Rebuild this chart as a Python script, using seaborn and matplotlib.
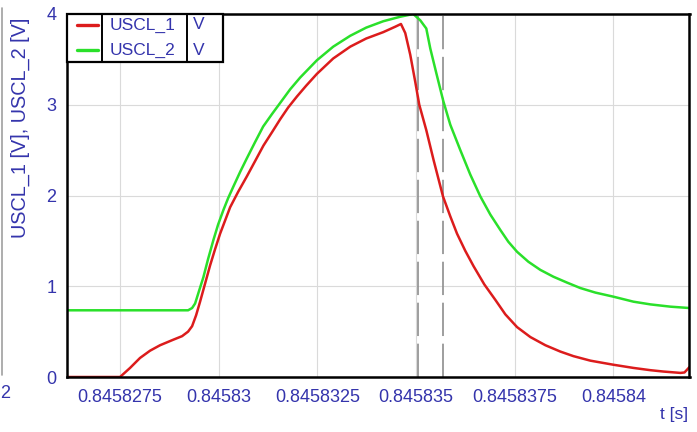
import matplotlib
matplotlib.use("Agg")
import matplotlib.pyplot as plt
from matplotlib.lines import Line2D
from matplotlib.patches import Rectangle
from matplotlib.ticker import FixedLocator, FixedFormatter
import numpy as np
import pandas as pd
import seaborn as sns

# ---- measured signals -------------------------------------------------------
t_uscl1 = [0.845826160, 0.845827500, 0.845827754, 0.845828007, 0.845828261,
           0.845828514, 0.845828844, 0.845829072, 0.845829224, 0.845829326,
           0.845829427, 0.845829528, 0.845829655, 0.845829782, 0.845829909,
           0.845830036, 0.845830289, 0.845830492, 0.845830712, 0.845830923,
           0.845831133, 0.845831354, 0.845831557, 0.845831760, 0.845831980,
           0.845832216, 0.845832487, 0.845832901, 0.845833332, 0.845833737,
           0.845834168, 0.845834473, 0.845834617, 0.845834726, 0.845834853,
           0.845834980, 0.845835081, 0.845835259, 0.845835444, 0.845835682,
           0.845835867, 0.845836037, 0.845836247, 0.845836458, 0.845836729,
           0.845837008, 0.845837262, 0.845837558, 0.845837896, 0.845838276,
           0.845838656, 0.845838986, 0.845839417, 0.845840000, 0.845840507,
           0.845840938, 0.845841268, 0.845841699, 0.845841800, 0.845841927]
u_uscl1 = [0.00, 0.00, 0.10, 0.21, 0.29,
           0.35, 0.41, 0.45, 0.50, 0.56,
           0.68, 0.83, 1.03, 1.23, 1.41,
           1.58, 1.87, 2.04, 2.21, 2.38,
           2.55, 2.70, 2.84, 2.97, 3.09,
           3.21, 3.34, 3.51, 3.64, 3.73,
           3.80, 3.86, 3.89, 3.79, 3.55,
           3.25, 3.00, 2.72, 2.39, 1.99,
           1.77, 1.58, 1.39, 1.22, 1.02,
           0.85, 0.69, 0.55, 0.44, 0.35,
           0.28, 0.23, 0.18, 0.135, 0.10,
           0.075, 0.06, 0.045, 0.05, 0.11]

t_uscl2 = [0.845826149, 0.845829224, 0.845829326, 0.845829402, 0.845829503,
           0.845829612, 0.845829731, 0.845829866, 0.845829985, 0.845830119,
           0.845830238, 0.845830373, 0.845830543, 0.845830713, 0.845830923,
           0.845831126, 0.845831354, 0.845831557, 0.845831810, 0.845832064,
           0.845832487, 0.845832901, 0.845833332, 0.845833737, 0.845834168,
           0.845834600, 0.845834929, 0.845835107, 0.845835259, 0.845835360,
           0.845835512, 0.845835690, 0.845835867, 0.845836121, 0.845836374,
           0.845836628, 0.845836881, 0.845837135, 0.845837338, 0.845837558,
           0.845837845, 0.845838149, 0.845838479, 0.845838826, 0.845839163,
           0.845839544, 0.845840000, 0.845840507, 0.845840938, 0.845841445,
           0.845841927]
u_uscl2 = [0.735, 0.735, 0.76, 0.81, 0.95,
           1.10, 1.30, 1.51, 1.68, 1.84,
           1.97, 2.10, 2.26, 2.41, 2.59,
           2.76, 2.90, 3.02, 3.17, 3.30,
           3.49, 3.64, 3.76, 3.85, 3.92,
           3.97, 4.00, 3.93, 3.84, 3.62,
           3.35, 3.04, 2.78, 2.50, 2.23,
           1.99, 1.79, 1.62, 1.49, 1.38,
           1.27, 1.18, 1.105, 1.04, 0.98,
           0.93, 0.885, 0.83, 0.80, 0.775,
           0.76]

signals = ["USCL_1", "USCL_2"]
units = ["V", "V"]
colors = ["#dc1c1c", "#2ae02a"]

cursor_t = [0.84583506, 0.84583568]

x_ticks = [0.8458275, 0.84583, 0.8458325, 0.845835, 0.8458375, 0.84584]
x_tick_labels = ["0.8458275", "0.84583", "0.8458325", "0.845835",
                 "0.8458375", "0.84584"]
x_limits = [0.845826149, 0.845841927]
y_ticks = [0, 1, 2, 3, 4]
y_limits = [0, 4]

# ---- styling ----------------------------------------------------------------
sns.set_style("white")
plt.rcParams["font.family"] = ["Liberation Sans", "DejaVu Sans"]
plt.rcParams["lines.scale_dashes"] = False
TEXT_BLUE = "#3434ac"

df = pd.concat([
    pd.DataFrame({"t": t_uscl1, "U": u_uscl1, "signal": signals[0]}),
    pd.DataFrame({"t": t_uscl2, "U": u_uscl2, "signal": signals[1]}),
], ignore_index=True)

fig = plt.figure(figsize=(6.97, 4.32), dpi=100)
ax = fig.add_axes([66.7 / 697, 55 / 432, (689.5 - 66.7) / 697, (377 - 14) / 432])

sns.lineplot(data=df, x="t", y="U", hue="signal", hue_order=signals,
             palette=dict(zip(signals, colors)), estimator=None, sort=False,
             linewidth=1.8, legend=False, ax=ax, zorder=3)

# cursor markers
for ct in cursor_t:
    ax.axvline(ct, color="#8e8e8e", lw=1.2, dashes=(24, 5.5), zorder=2)

ax.set_xlim(*x_limits)
ax.set_ylim(*y_limits)

ax.xaxis.set_major_locator(FixedLocator(x_ticks))
ax.xaxis.set_major_formatter(FixedFormatter(x_tick_labels))
x_step = x_ticks[1] - x_ticks[0]
x_minor = [a - x_step / 2 for a in x_ticks] + [x_ticks[-1] + x_step / 2]
ax.xaxis.set_minor_locator(FixedLocator(x_minor))
ax.yaxis.set_major_locator(FixedLocator(y_ticks))
ax.yaxis.set_minor_locator(FixedLocator([v + 0.5 for v in y_ticks[:-1]]))

ax.grid(True, which="major", color="#dadada", lw=0.8, zorder=0)
ax.set_axisbelow(True)
for s in ax.spines.values():
    s.set_color("black")
    s.set_linewidth(1.8)
    s.set_zorder(4)

ax.tick_params(axis="both", which="major", direction="inout", length=11,
               width=1.6, color="black", labelcolor=TEXT_BLUE, labelsize=13)
ax.tick_params(axis="both", which="minor", direction="inout", length=6,
               width=1.6, color="black")
ax.tick_params(axis="x", which="major", pad=3)
ax.tick_params(axis="y", which="major", pad=2)
ax.set_xlabel("")
ax.set_ylabel("")

fig.text(20 / 697, 1 - 128 / 432, "USCL_1 [V], USCL_2 [V]", rotation=90,
         ha="center", va="center", color=TEXT_BLUE, fontsize=14.3)
fig.text(688 / 697, 1 - 415 / 432, "t [s]", ha="right", va="center",
         color=TEXT_BLUE, fontsize=12.5)

# legend laid out as a small table: sample | name | unit
lx0, lx1 = 0.0, 0.251
ly0, ly1 = 0.868, 1.0
ax.add_patch(Rectangle((lx0, ly0), lx1 - lx0, ly1 - ly0, transform=ax.transAxes,
                       facecolor="white", edgecolor="black", lw=1.6, zorder=6,
                       clip_on=False))
for xd in (0.0572, 0.1936):
    ax.add_line(Line2D([xd, xd], [ly0, ly1], transform=ax.transAxes,
                       color="black", lw=1.4, zorder=7, clip_on=False))
for row_y, name, unit, col in zip((0.9697, 0.9008), signals, units, colors):
    ax.add_line(Line2D([0.0165, 0.050], [row_y, row_y], transform=ax.transAxes,
                       color=col, lw=2.4, zorder=7, clip_on=False))
    ax.text(0.0694, row_y, name, transform=ax.transAxes, ha="left",
            va="center", color=TEXT_BLUE, fontsize=12.5, zorder=8)
    ax.text(0.2028, row_y, unit, transform=ax.transAxes, ha="left",
            va="center", color=TEXT_BLUE, fontsize=12.5, zorder=8)

# edge of the neighbouring panel
fig.add_artist(Line2D([1.5 / 697, 1.5 / 697], [1 - 375 / 432, 1 - 8 / 432],
                      color="#a0a0a0", lw=1.2))
fig.text(10 / 697, 1 - 393 / 432, "2", ha="right", va="center",
         color=TEXT_BLUE, fontsize=13)

fig.savefig("out.png", dpi=100, facecolor="white")
